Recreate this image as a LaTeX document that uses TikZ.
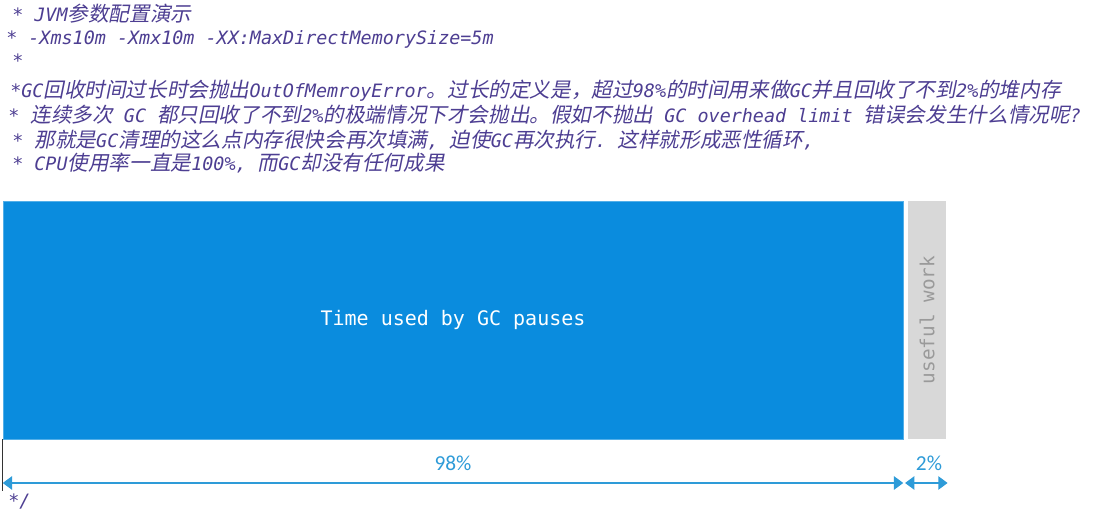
\documentclass[tikz,border=0pt]{standalone}
\usepackage{fontspec}
\setmonofont{DejaVu Sans Mono}
\newfontfamily\cjkfont[Scale=1.12,FakeSlant=0.2]{Noto Sans CJK SC}
\newfontfamily\labelfont{Carlito}
\newcommand{\zh}[1]{{\cjkfont\upshape #1}}
\usepackage{xcolor}
\definecolor{codepurple}{HTML}{4D3E92}
\definecolor{gcblue}{HTML}{0A8CDE}
\definecolor{workgrey}{HTML}{D8D8D8}
\definecolor{dimblue}{HTML}{2E9BD8}
\definecolor{greytext}{HTML}{9A9A9A}
\usepackage{tikz}
\usetikzlibrary{arrows.meta,positioning}

\begin{document}
\begin{tikzpicture}[
  x=0.75pt,y=-0.75pt,
  codeline/.style={anchor=west,inner sep=0pt,text height=9pt,text depth=2.5pt,text=codepurple,font=\ttfamily\itshape\fontsize{13.8}{16}\selectfont},
  gcbar/.style={fill=gcblue,draw=gcblue!70!white,line width=0.4pt,minimum width=675pt,minimum height=178.5pt,inner sep=0pt,text=white,font=\ttfamily\fontsize{15}{18}\selectfont},
  workbar/.style={fill=workgrey,minimum width=28.5pt,minimum height=178.5pt,inner sep=0pt},
  worklabel/.style={rotate=90,text=greytext,font=\ttfamily\fontsize{14.5}{17}\selectfont},
  pct/.style={text=dimblue,font=\labelfont\fontsize{16}{19}\selectfont},
  dimarrow/.style={{Triangle[length=7pt,width=10pt]}-{Triangle[length=7pt,width=10pt]},line width=1.3pt,draw=dimblue},
  tickline/.style={line width=1pt,draw=black!80}
]
\useasboundingbox[fill=white] (0,0) rectangle (1100,527);

% comment lines
\node[codeline] (l1) at (12,17) {* JVM\zh{参数配置演示}};
\node[codeline] (l2) at (6,40) {* -Xms10m -Xmx10m -XX:MaxDirectMemorySize=5m};
\node[codeline] (l3) at (12,63) {*};
\node[codeline] (l4) at (10,93) {*GC\zh{回收时间过长时会抛出}OutOfMemroyError\zh{。过长的定义是，超过}98\%\zh{的时间用来做}GC\zh{并且回收了不到}2\%\zh{的堆内存}};
\node[codeline] (l5) at (8,118) {* \zh{连续多次} GC \zh{都只回收了不到}2\%\zh{的极端情况下才会抛出。假如不抛出} GC overhead limit \zh{错误会发生什么情况呢}?};
\node[codeline] (l6) at (12,143) {* \zh{那就是}GC\zh{清理的这么点内存很快会再次填满}, \zh{迫使}GC\zh{再次执行}. \zh{这样就形成恶性循环},};
\node[codeline] (l7) at (12,166) {* CPU\zh{使用率一直是}100\%, \zh{而}GC\zh{却没有任何成果}};

% bars
\node[gcbar] (gc) at (453,320) {Time used by GC pauses};
\node[workbar] (work) at (927,320) {};
\node[worklabel] (worktext) at (work.center) {useful work};

% dimensions
\coordinate (tickend) at (3,491);
\coordinate (dim) at (0,483);
\draw[tickline] (gc.south west) -- (gc.south west |- tickend);
\draw[dimarrow] (gc.west |- dim) -- (gc.east |- dim);
\draw[dimarrow] ([xshift=-2pt]work.west |- dim) -- ([xshift=1pt]work.east |- dim);
\node[pct] (p98) at (453,463) {98\%};
\node[pct] (p2) at (929,463) {2\%};

\node[codeline] (cend) at (8,503) {*/};
\end{tikzpicture}
\end{document}
